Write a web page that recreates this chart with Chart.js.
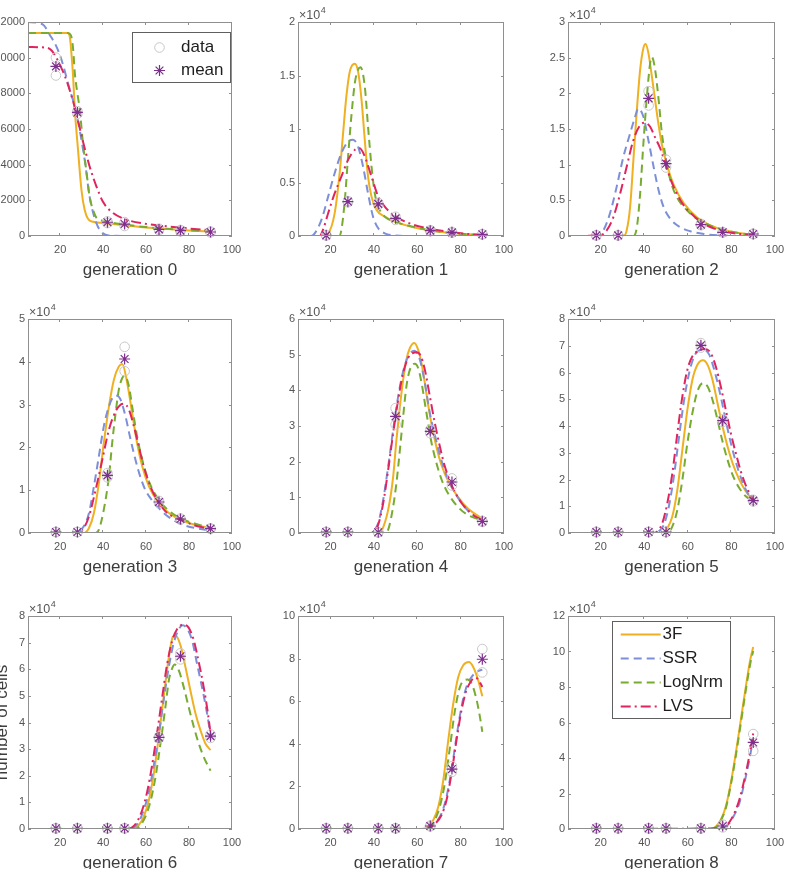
<!DOCTYPE html>
<html>
<head>
<meta charset="utf-8">
<title>Cells per generation</title>
<script src="https://cdn.jsdelivr.net/npm/chart.js@4.4.1/dist/chart.umd.min.js"></script>
<style>
    html, body { margin: 0; padding: 0; background: #fff; }
    body { width: 786px; height: 869px; overflow: hidden; position: relative; }
    canvas { position: absolute; }
</style>
</head>
<body>
<script>
// Sampling times (hours), shared by every generation
const timesH = [18, 28, 42, 50, 66, 76, 90];
const xTicks = [20, 40, 60, 80, 100];
const genLabels = ['generation 0', 'generation 1', 'generation 2', 'generation 3', 'generation 4',
                   'generation 5', 'generation 6', 'generation 7', 'generation 8'];
const yMaxes = [12000, 20000, 30000, 50000, 60000, 80000, 80000, 100000, 120000];
const ySteps = [2000, 5000, 5000, 10000, 10000, 10000, 10000, 20000, 20000];
const modelNames = ['3F', 'SSR', 'LogNrm', 'LVS'];

// Mean number of cells at each sampling time
const mean0 = [9510, 6930, 770, 670, 370, 300, 225];
const mean1 = [60, 3210, 3000, 1650, 500, 340, 160];
const mean2 = [90, 90, 19300, 10140, 1600, 520, 280];
const mean3 = [230, 230, 13470, 40650, 7240, 3270, 1010];
const mean4 = [280, 280, 190, 32710, 28500, 14300, 3270];
const mean5 = [370, 370, 370, 370, 70160, 41990, 12090];
const mean6 = [250, 250, 250, 250, 34380, 64880, 34880];
const mean7 = [310, 310, 310, 310, 1400, 28130, 79690];
const mean8 = [375, 375, 375, 375, 375, 1690, 48750];

// Replicate measurements (data circles)
const reps0 = [[9000, 10000], [6850, 7000], [720, 820], [560, 780], [330, 410], [260, 340], [200, 250]];
const reps1 = [[40, 80], [3150, 3270], [2900, 3100], [1500, 1800], [450, 550], [300, 380], [140, 180]];
const reps2 = [[70, 110], [60, 120], [20300, 18300], [10700, 9600], [1500, 1700], [480, 560], [250, 310]];
const reps3 = [[200, 260], [200, 260], [13000, 14000], [43500, 37800], [7000, 7500], [3100, 3400], [950, 1070]];
const reps4 = [[250, 310], [250, 310], [150, 230], [35000, 30400], [29000, 28000], [15300, 13300], [3100, 3400]];
const reps5 = [[300, 440], [300, 440], [300, 440], [300, 440], [71000, 69300], [42500, 41500], [11800, 12400]];
const reps6 = [[200, 300], [200, 300], [200, 300], [200, 300], [34000, 34700], [66000, 63700], [35500, 34200]];
const reps7 = [[250, 370], [250, 370], [250, 370], [250, 370], [1200, 1600], [29500, 26800], [84500, 73500]];
const reps8 = [[300, 450], [300, 450], [300, 450], [300, 450], [300, 450], [2500, 900], [53500, 44000]];

// Model fits, [time, cells]
const fit3F_0 = [[5, 11380], [23.5, 11380], [24.5, 11150], [25.2, 10260], [26, 8950], [26.8, 7100], [28.3, 4830], [29.9, 2580], [31.4, 1460], [33, 950], [35.3, 800], [40, 730], [50, 600], [60, 480], [70, 390], [80, 310], [90, 250]];
const fitSSR_0 = [[5, 12000], [10, 11950], [12.5, 11800], [15.1, 11290], [18.2, 10630], [20.6, 9880], [24, 8400], [27.5, 6890], [31.4, 4270], [33.7, 2210], [36.9, 710], [39.9, 150], [43, 30], [50, 0], [90, 0]];
const fitLog_0 = [[5, 11380], [23.5, 11380], [25, 11250], [26, 10500], [26.8, 9130], [28, 8000], [29.1, 7075], [30.6, 5200], [32.5, 3330], [33.7, 2200], [35.3, 1460], [37, 1000], [40, 850], [50, 640], [60, 500], [70, 400], [80, 320], [90, 260]];
const fitLVS_0 = [[5, 10600], [14, 10550], [16, 10400], [18.2, 10000], [21, 9300], [23, 8700], [26.8, 7200], [30.6, 5300], [33.7, 3900], [36.8, 2800], [40, 1900], [44, 1350], [50, 950], [60, 680], [70, 540], [80, 420], [90, 320]];

const fit3F_1 = [[5, 0], [16, 0], [18.9, 250], [21.9, 2120], [24.2, 5870], [25.8, 9610], [27.3, 13040], [28.9, 15380], [31.2, 16100], [32.7, 15380], [34.3, 12730], [35.8, 8990], [37.3, 5550], [38.9, 3680], [41.2, 2430], [45, 1810], [49.6, 1340], [57.3, 870], [65, 560], [74.3, 310], [83.5, 160], [90, 90]];
const fitSSR_1 = [[5, 0], [11, 0], [12.7, 250], [15.8, 1500], [18.9, 3680], [21.9, 5870], [25, 7740], [28.1, 8830], [30.4, 8990], [32.7, 8360], [35, 6490], [37.3, 3990], [39.6, 1810], [42, 720], [45, 250], [49.6, 60], [55, 0], [90, 0]];
const fitLog_1 = [[5, 0], [24, 0], [25, 560], [26.6, 3370], [28.1, 7430], [29.6, 11170], [31.2, 14290], [32.7, 15540], [33.9, 15760], [35.8, 13980], [37.3, 10230], [38.9, 6490], [40.4, 3990], [42, 2750], [45, 1810], [49.6, 1340], [57.3, 900], [65, 560], [74.3, 310], [83.5, 160], [90, 90]];
const fitLVS_1 = [[5, 0], [15, 0], [16.5, 560], [18.9, 2120], [21.9, 3990], [25, 5550], [28.1, 7110], [31.2, 8050], [33.5, 8210], [35.8, 7430], [38.9, 5550], [42, 3680], [45, 2750], [49.6, 1870], [57.3, 1120], [65, 720], [74.3, 400], [83.5, 190], [90, 90]];

const fit3F_2 = [[5, 0], [30.4, 0], [31.9, 750], [33.5, 4040], [35, 10610], [36.6, 17650], [38.1, 23290], [39.6, 26340], [40.6, 26900], [41.9, 25630], [43.5, 22350], [45, 19000], [46.6, 15500], [48.1, 12800], [50.4, 10000], [53.5, 7200], [58.1, 4600], [64.3, 2600], [70.4, 1500], [76.6, 850], [84.3, 380], [90, 180]];
const fitSSR_2 = [[5, 0], [19, 0], [21.2, 750], [24.2, 3100], [27.3, 6850], [30.4, 11080], [33.5, 14370], [35.8, 16710], [37.3, 17890], [39.6, 16710], [41.9, 13430], [44.3, 9670], [46.6, 6380], [48.9, 4040], [52, 2390], [56.6, 1220], [61.2, 660], [67.4, 280], [73.5, 90], [80, 0], [90, 0]];
const fitLog_2 = [[5, 0], [35, 0], [36.6, 1220], [38.1, 5920], [39.6, 12960], [41.2, 19530], [42.7, 24230], [43.5, 25070], [45, 23290], [46.6, 19060], [48.1, 14370], [49.6, 11500], [52, 7790], [55, 5450], [59.7, 3570], [64.3, 2390], [70.4, 1460], [76.6, 850], [84.3, 380], [90, 190]];
const fitLVS_2 = [[5, 0], [19.6, 90], [22.7, 750], [25.8, 2630], [28.9, 5920], [31.9, 9670], [35, 13430], [38.1, 15540], [40.4, 15870], [42.7, 15310], [45, 13800], [47.3, 12300], [49.6, 10200], [52, 8000], [55, 5900], [58.1, 4300], [62.7, 2800], [67.4, 1700], [73.5, 900], [79.7, 450], [90, 120]];

const fit3F_3 = [[5, 0], [31, 0], [33.4, 1170], [35.7, 4670], [38, 11680], [40.3, 21030], [42.7, 29600], [45, 35830], [47.3, 38900], [48.9, 39500], [51.2, 35050], [53.5, 28040], [55.8, 21030], [58.2, 15580], [61.3, 10900], [65.9, 7010], [70.6, 4670], [76.8, 2880], [84.5, 1710], [90, 1170]];
const fitSSR_3 = [[5, 0], [27, 0], [28.7, 390], [31, 1560], [33.4, 4670], [35.7, 10900], [38, 17910], [40.3, 24920], [42.7, 29600], [45, 31930], [46.5, 32090], [48.1, 31150], [50.4, 27260], [52.7, 22000], [55.1, 17000], [57.4, 13000], [59.7, 10000], [62.8, 7600], [65.9, 5800], [70.6, 3700], [76.8, 2000], [84.5, 1000], [90, 600]];
const fitLog_3 = [[5, 0], [36.5, 0], [38, 780], [40.3, 5450], [42.7, 13240], [44.2, 21030], [45.8, 28040], [47.3, 33490], [48.9, 36210], [50.1, 36760], [52, 34270], [53.5, 29600], [55.8, 22590], [58.2, 17130], [61.3, 12070], [65.9, 7790], [70.6, 5220], [76.8, 3270], [84.5, 1950], [90, 1320]];
const fitLVS_3 = [[5, 0], [27, 0], [28.7, 160], [31, 1170], [33.4, 3890], [36.5, 10120], [39.6, 17130], [42.7, 24140], [45.8, 28430], [48.1, 29980], [49.6, 30220], [52, 28820], [54.3, 24920], [56.6, 20250], [58.9, 15580], [62, 10900], [65.1, 7790], [69, 5060], [73.6, 3600], [78.3, 2600], [84.5, 1500], [90, 1010]];

const fit3F_4 = [[5, 0], [42.7, 0], [43.5, 470], [46.6, 6540], [48.9, 15890], [50.4, 26170], [52, 35510], [53.5, 42990], [55, 48600], [56.6, 51870], [58.6, 53270], [60.4, 51400], [62, 47500], [63.5, 42000], [65, 36000], [66.6, 30500], [68.9, 24000], [71.2, 19000], [74.3, 14500], [78.9, 10000], [83.5, 6800], [90, 4000]];
const fitSSR_4 = [[5, 0], [38, 0], [39.6, 470], [42, 2800], [44.3, 9350], [46.6, 18690], [48.9, 28970], [51.2, 38320], [53.5, 45330], [55.8, 49530], [58.6, 51120], [61.2, 48600], [63.5, 42060], [65.8, 33640], [68.1, 27500], [70.4, 22000], [72.7, 17500], [75.8, 13000], [80.4, 8500], [85.1, 5200], [90, 3300]];
const fitLog_4 = [[5, 0], [45, 0], [46.6, 930], [48.9, 7480], [50.4, 14020], [52, 23360], [53.5, 32710], [55, 41120], [56.6, 45790], [58.9, 47480], [60.4, 46260], [62, 42060], [63.5, 36450], [65, 30840], [66.6, 25230], [68.9, 19500], [71.2, 15000], [74.3, 11000], [78.9, 7200], [83.5, 5000], [90, 3500]];
const fitLVS_4 = [[5, 0], [38, 0], [39.6, 280], [42, 2340], [44.3, 8410], [46.6, 17760], [48.9, 28040], [51.2, 37380], [53.5, 44860], [55.8, 49070], [58, 50470], [59.7, 50650], [61.7, 49530], [63.5, 45790], [65.8, 38320], [68.1, 30840], [70.4, 24300], [72.7, 18690], [75.8, 13500], [80.4, 8410], [85.1, 5420], [90, 3550]];

const fit3F_5 = [[5, 0], [48.3, 0], [50.6, 1870], [52.9, 6230], [55.2, 16200], [57.5, 31150], [59.8, 46110], [62.1, 57320], [64.4, 62930], [67, 64550], [69, 62930], [71.3, 57320], [73.6, 48600], [75.9, 39880], [78.2, 32400], [80.5, 26170], [83.6, 19940], [86.6, 15580], [90, 12090]];
const fitSSR_5 = [[5, 0], [45, 0], [46.7, 620], [49, 3120], [51.3, 9970], [53.6, 21180], [56, 36140], [58.3, 49840], [60.6, 59810], [62.9, 66040], [65.2, 68290], [67, 68540], [69.8, 66670], [72.1, 61060], [74.4, 53580], [76.7, 44860], [79, 36140], [81.3, 28660], [83.6, 22430], [86.6, 16200], [90, 11840]];
const fitLog_5 = [[5, 0], [50.6, 0], [52.9, 2490], [55.2, 8720], [57.5, 19940], [59.8, 33640], [62.1, 44860], [64.4, 52960], [67, 56070], [69, 54830], [71.3, 49840], [73.6, 42370], [75.9, 34270], [78.2, 27410], [80.5, 21810], [83.6, 16820], [86.6, 13710], [90, 11840]];
const fitLVS_5 = [[5, 0], [44, 0], [46, 620], [48.3, 3740], [50.6, 11210], [52.9, 22430], [55.2, 37380], [57.5, 51090], [59.8, 61060], [62.1, 66040], [64.4, 67910], [67.8, 68790], [70.5, 67290], [72.8, 62310], [75.1, 54830], [77.4, 46110], [79.7, 37380], [82, 29910], [84.3, 23050], [87.1, 16820], [90, 12460]];

const fit3F_6 = [[5, 0], [53.5, 0], [56.6, 1500], [58.9, 4630], [61.3, 10880], [63.6, 20880], [65.9, 34630], [68.2, 49630], [70.6, 64630], [72.4, 72130], [73.6, 72750], [76, 69000], [78.3, 60880], [80.6, 52130], [83, 43380], [85.3, 37130], [87.6, 32130], [90, 29630]];
const fitSSR_6 = [[5, 0], [52, 0], [54.3, 630], [56.6, 2750], [58.9, 7130], [61.3, 14000], [63.6, 24000], [65.9, 35500], [68.2, 48500], [70.6, 61000], [72.9, 70000], [75.2, 75000], [77.1, 76500], [79.1, 75250], [81.4, 70880], [83.7, 62130], [86, 53380], [88.4, 43380], [90, 35250]];
const fitLog_6 = [[5, 0], [55.1, 0], [57.4, 1500], [59.7, 4630], [62, 10250], [64.4, 19630], [66.7, 32130], [69, 45880], [70.6, 55880], [72.1, 60250], [73.3, 61750], [75.2, 59630], [77.5, 53380], [79.8, 45880], [82.2, 38380], [84.5, 32130], [86.8, 27130], [90, 21880]];
const fitLVS_6 = [[5, 0], [51, 0], [53.5, 630], [55.8, 2750], [58.2, 7130], [60.5, 14000], [62.8, 24000], [65.1, 36000], [67.5, 49500], [69.8, 62000], [72.1, 70500], [74.4, 75000], [77.2, 76750], [79.8, 75630], [82.2, 70880], [84.5, 62750], [86.8, 53380], [88.8, 43380], [90, 35880]];

const fit3F_7 = [[5, 0], [62, 0], [65, 1090], [67.4, 4220], [69.7, 10470], [72, 22970], [74.3, 41720], [76.6, 58910], [78.9, 71410], [81.2, 76880], [83.8, 78440], [85.8, 76090], [88.1, 69840], [90, 62340]];
const fitSSR_7 = [[5, 0], [63, 0], [65, 310], [68.1, 2660], [71.2, 7340], [73.5, 15160], [75.8, 27660], [78.1, 43280], [80.4, 57340], [82.7, 66720], [85.1, 71410], [87.4, 73750], [90, 74840]];
const fitLog_7 = [[5, 0], [62.7, 0], [65.8, 1090], [68.1, 4220], [70.4, 10470], [72.7, 21410], [75.1, 38590], [77.4, 55780], [79.7, 66720], [81.7, 69840], [83.2, 70160], [85.4, 67500], [87.4, 60470], [88.9, 52660], [90, 45630]];
const fitLVS_7 = [[5, 0], [63, 0], [65, 310], [68.1, 2340], [71.2, 6560], [73.5, 13590], [75.8, 26090], [78.1, 41720], [80.4, 55780], [82.7, 65160], [85.1, 69840], [86.6, 71090], [88.1, 70160], [90, 66720]];

const fit3F_8 = [[5, 0], [70.5, 0], [72.8, 1310], [75.1, 5060], [77.4, 12560], [79.7, 25690], [82, 42560], [84.3, 61310], [86.6, 80060], [88.6, 95060], [90, 102560]];
const fitSSR_8 = [[5, 0], [74.4, 0], [76.7, 940], [79, 3190], [81.3, 7880], [83.6, 14440], [85.9, 25690], [88.2, 38810], [90, 51000]];
const fitLog_8 = [[5, 0], [70.5, 0], [72.8, 940], [75.1, 4690], [77.4, 11630], [79.7, 24750], [82, 41060], [84.3, 59440], [86.6, 78190], [88.6, 92810], [90, 100310]];
const fitLVS_8 = [[5, 0], [74.4, 375], [76.7, 1310], [79, 3750], [81.3, 8810], [83.6, 16310], [85.9, 27560], [88.2, 41060], [90, 53810]];

const means = [mean0, mean1, mean2, mean3, mean4, mean5, mean6, mean7, mean8];
const reps = [reps0, reps1, reps2, reps3, reps4, reps5, reps6, reps7, reps8];
const fits = [
    [fit3F_0, fitSSR_0, fitLog_0, fitLVS_0],
    [fit3F_1, fitSSR_1, fitLog_1, fitLVS_1],
    [fit3F_2, fitSSR_2, fitLog_2, fitLVS_2],
    [fit3F_3, fitSSR_3, fitLog_3, fitLVS_3],
    [fit3F_4, fitSSR_4, fitLog_4, fitLVS_4],
    [fit3F_5, fitSSR_5, fitLog_5, fitLVS_5],
    [fit3F_6, fitSSR_6, fitLog_6, fitLVS_6],
    [fit3F_7, fitSSR_7, fitLog_7, fitLVS_7],
    [fit3F_8, fitSSR_8, fitLog_8, fitLVS_8]
];

// Styles
const FONT = "'Liberation Sans', Arial, Helvetica, sans-serif";
const modelStyles = [
    { color: '#efb021', dash: [] },
    { color: '#7c8fd8', dash: [8, 5] },
    { color: '#77ac30', dash: [8, 5] },
    { color: '#e0245e', dash: [10, 4, 2, 4] }
];
const BOX_COLOR = '#8f8f8f';
const TICK_TEXT = '#555555';
const TITLE_TEXT = '#3d3d3d';

// Plot-area placement on the page
const colLeft = [28, 298, 568], colRight = [232, 504, 775];
const rowTop = [22, 319, 616], rowBottom = [236, 533, 829];
const PAD_L = 60, PAD_T = 25, PAD_R = 24, PAD_B = 50;

Chart.defaults.font.family = FONT;

function toXY(pairs) {
    return pairs.map(p => ({ x: p[0], y: p[1] }));
}

function repPoints(list) {
    const out = [];
    list.forEach((vals, i) => vals.forEach(v => out.push({ x: timesH[i], y: v })));
    return out;
}

function drawMarker(ctx, style, x, y, r) {
    ctx.beginPath();
    if (style === 'star') {
        for (let k = 0; k < 4; k++) {
            const a = k * Math.PI / 4;
            ctx.moveTo(x - r * Math.cos(a), y - r * Math.sin(a));
            ctx.lineTo(x + r * Math.cos(a), y + r * Math.sin(a));
        }
    } else {
        ctx.arc(x, y, r, 0, Math.PI * 2);
    }
    ctx.stroke();
}

// Box, inward ticks and the x10^4 factor
const matlabAxes = {
    id: 'matlabAxes',
    afterDraw(chart, args, opts) {
        const { ctx, chartArea: a, scales } = chart;
        ctx.save();
        ctx.setLineDash([]);
        ctx.strokeStyle = BOX_COLOR;
        ctx.lineWidth = 1;
        ctx.strokeRect(a.left + 0.5, a.top + 0.5, a.right - a.left - 1, a.bottom - a.top - 1);
        ctx.beginPath();
        scales.x.ticks.forEach(t => {
            const px = Math.round(scales.x.getPixelForValue(t.value)) - 0.5;
            ctx.moveTo(px, a.bottom); ctx.lineTo(px, a.bottom - 3);
            ctx.moveTo(px, a.top); ctx.lineTo(px, a.top + 3);
        });
        scales.y.ticks.forEach(t => {
            const py = Math.round(scales.y.getPixelForValue(t.value)) + 0.5;
            ctx.moveTo(a.left, py); ctx.lineTo(a.left + 3, py);
            ctx.moveTo(a.right, py); ctx.lineTo(a.right - 3, py);
        });
        ctx.stroke();
        if (opts.exponent) {
            ctx.fillStyle = TICK_TEXT;
            ctx.textBaseline = 'alphabetic';
            ctx.textAlign = 'left';
            ctx.font = '12.5px ' + FONT;
            ctx.fillText('\u00d710', a.left + 1, a.top - 3);
            const w = ctx.measureText('\u00d710').width;
            ctx.font = '9px ' + FONT;
            ctx.fillText(String(opts.exponent), a.left + 1.5 + w, a.top - 9);
        }
        ctx.restore();
    }
};

// Framed legend drawn inside the axes
const boxLegend = {
    id: 'boxLegend',
    afterDraw(chart, args, opts) {
        if (!opts.items) return;
        const { ctx, chartArea: a } = chart;
        const bx = a.left + opts.left, by = a.top + opts.top;
        ctx.save();
        ctx.fillStyle = '#ffffff';
        ctx.fillRect(bx, by, opts.width, opts.height);
        ctx.strokeStyle = '#5f5f5f';
        ctx.lineWidth = 1;
        ctx.setLineDash([]);
        ctx.strokeRect(bx + 0.5, by + 0.5, opts.width, opts.height);
        ctx.font = '17px ' + FONT;
        ctx.textBaseline = 'middle';
        ctx.textAlign = 'left';
        opts.items.forEach((idx, row) => {
            const ds = chart.data.datasets[idx];
            const y = Math.round(by + opts.firstRow + row * opts.rowStep) + 0.5;
            if (ds.showLine) {
                ctx.strokeStyle = ds.borderColor;
                ctx.lineWidth = ds.borderWidth;
                ctx.setLineDash(ds.borderDash);
                ctx.beginPath();
                ctx.moveTo(bx + opts.sampleX0, y);
                ctx.lineTo(bx + opts.sampleX1, y);
                ctx.stroke();
                ctx.setLineDash([]);
            } else {
                ctx.strokeStyle = ds.borderColor;
                ctx.lineWidth = ds.borderWidth;
                drawMarker(ctx, ds.pointStyle, bx + opts.sampleX0, y, ds.pointRadius);
            }
            ctx.fillStyle = '#1e1e1e';
            ctx.fillText(ds.label, bx + opts.textX, y);
        });
        ctx.restore();
    }
};

const legendData = { left: 104, top: 10, width: 98, height: 50, firstRow: 14.5, rowStep: 23.3,
                     sampleX0: 27.5, sampleX1: 27.5, textX: 49, items: [4, 5] };
const legendModels = { left: 44, top: 5, width: 118, height: 97, firstRow: 12.7, rowStep: 24.2,
                       sampleX0: 8.7, sampleX1: 48.7, textX: 50.5, items: [0, 1, 2, 3] };

function buildPanel(g) {
    const col = g % 3, row = Math.floor(g / 3);
    const w = colRight[col] - colLeft[col];
    const h = rowBottom[row] - rowTop[row];
    const canvas = document.createElement('canvas');
    canvas.width = PAD_L + w + PAD_R;
    canvas.height = PAD_T + h + PAD_B;
    canvas.style.left = (colLeft[col] - PAD_L) + 'px';
    canvas.style.top = (rowTop[row] - PAD_T) + 'px';
    document.body.appendChild(canvas);

    const datasets = fits[g].map((curve, m) => ({
        label: modelNames[m],
        data: toXY(curve),
        showLine: true,
        borderColor: modelStyles[m].color,
        borderDash: modelStyles[m].dash,
        borderWidth: 2,
        pointRadius: 0,
        cubicInterpolationMode: 'monotone',
        order: 6 - m
    }));
    datasets.push({
        label: 'data',
        data: repPoints(reps[g]),
        showLine: false,
        pointStyle: 'circle',
        pointRadius: 4.8,
        borderWidth: 1,
        borderColor: '#c8c8c8',
        backgroundColor: 'rgba(0,0,0,0)',
        clip: false,
        order: 2
    });
    datasets.push({
        label: 'mean',
        data: timesH.map((t, i) => ({ x: t, y: means[g][i] })),
        showLine: false,
        pointStyle: 'star',
        pointRadius: 5.5,
        borderWidth: 1.2,
        borderColor: '#7e2f8e',
        backgroundColor: '#7e2f8e',
        clip: false,
        order: 1
    });

    const useExp = g > 0;
    new Chart(canvas, {
        type: 'scatter',
        data: { datasets },
        options: {
            responsive: false,
            animation: false,
            devicePixelRatio: 1,
            events: [],
            layout: { padding: { top: PAD_T, right: PAD_R, bottom: 0, left: 0 } },
            plugins: {
                legend: { display: false },
                tooltip: { enabled: false },
                matlabAxes: { exponent: useExp ? 4 : 0 },
                boxLegend: g === 0 ? legendData : (g === 8 ? legendModels : {})
            },
            scales: {
                x: {
                    type: 'linear',
                    min: 5,
                    max: 100,
                    afterBuildTicks: s => { s.ticks = xTicks.map(v => ({ value: v })); },
                    afterFit: s => { s.height = PAD_B; },
                    grid: { display: false, drawTicks: false },
                    border: { display: false },
                    ticks: { padding: 7, color: TICK_TEXT, font: { size: 11 }, maxRotation: 0, autoSkip: false,
                             callback: v => String(v) },
                    title: { display: true, text: genLabels[g], color: TITLE_TEXT, font: { size: 17 },
                             padding: { top: 0, bottom: 5 } }
                },
                y: {
                    type: 'linear',
                    min: 0,
                    max: yMaxes[g],
                    afterFit: s => { s.width = PAD_L; },
                    grid: { display: false, drawTicks: false },
                    border: { display: false },
                    ticks: { stepSize: ySteps[g], padding: 3, color: TICK_TEXT, font: { size: 11 }, autoSkip: false,
                             callback: v => useExp ? String(Math.round(v / 1000) / 10) : String(v) },
                    title: { display: g === 6, text: 'number of cells', color: TITLE_TEXT, font: { size: 17 },
                             padding: { top: 24, bottom: 0 } }
                }
            }
        },
        plugins: [matlabAxes, boxLegend]
    });
}

for (let g = 0; g < 9; g++) buildPanel(g);
</script>
</body>
</html>
